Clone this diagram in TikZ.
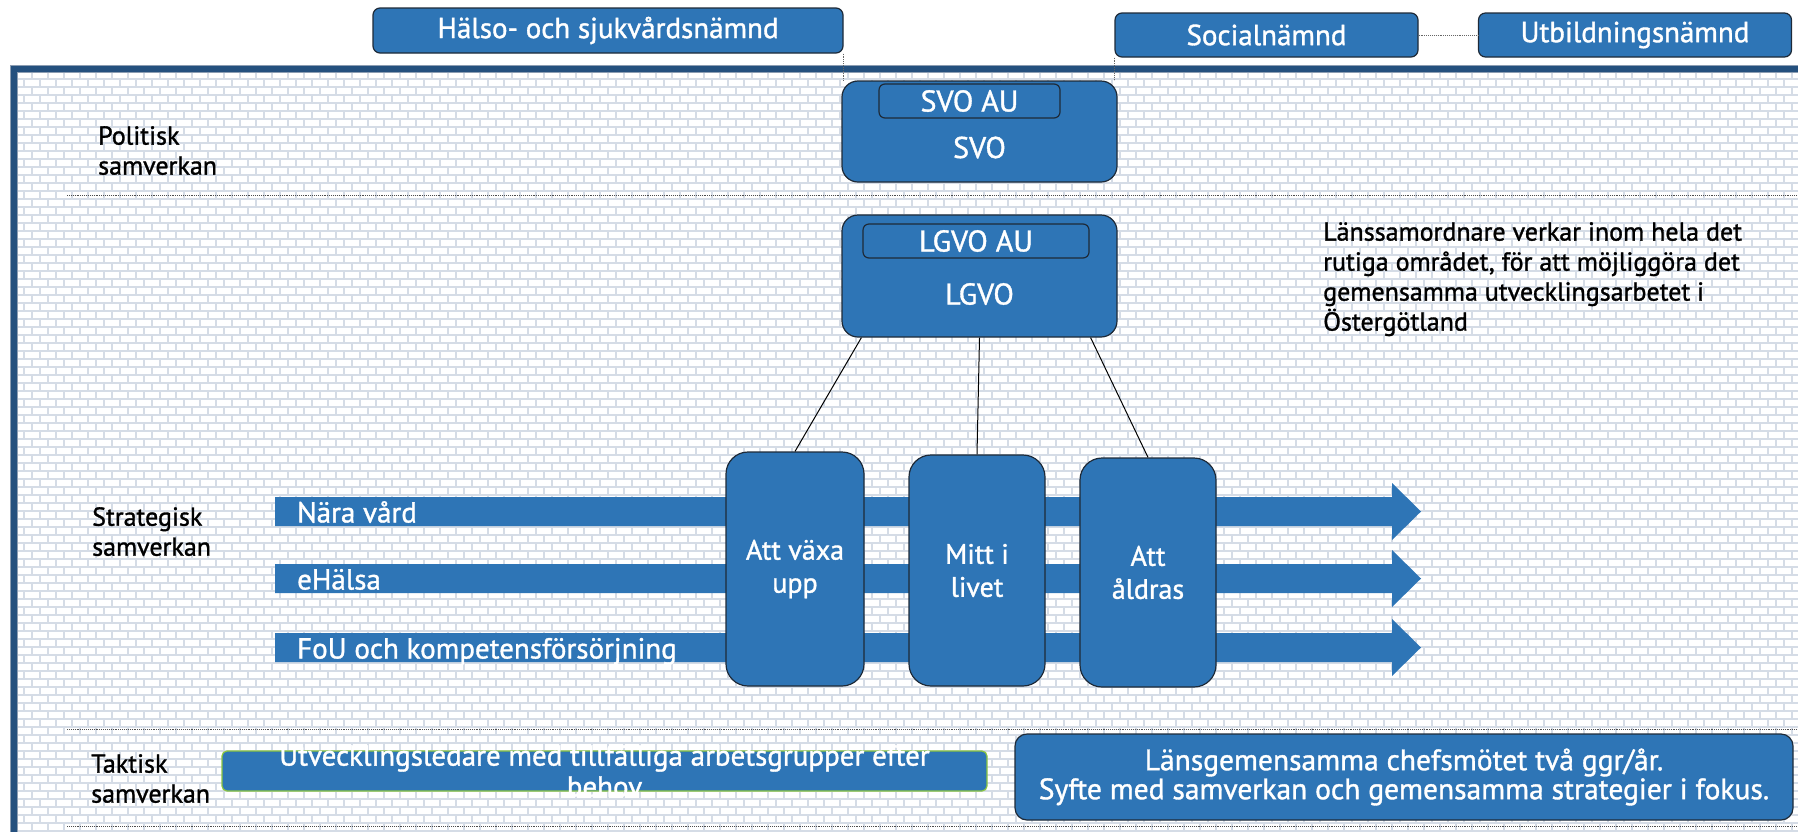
\documentclass[tikz,border=0pt]{standalone}
\usepackage{fontspec}
\setmainfont{PT Sans}[FakeBold=1.2]
\usetikzlibrary{patterns}

\definecolor{boxblue}{HTML}{2E75B6}
\definecolor{boxedge}{HTML}{1E2A38}
\definecolor{frame}{HTML}{24507E}
\definecolor{frameedge}{HTML}{8C9DB2}
\definecolor{brick}{HTML}{D5DCE6}
\definecolor{leafgreen}{HTML}{8CC63F}

% brick wall tile for the background
\pgfdeclarepatternformonly{brickwall}{\pgfqpoint{-1pt}{-1pt}}{\pgfqpoint{17pt}{17pt}}{\pgfqpoint{16pt}{16pt}}{%
  \pgfsetlinewidth{1.6pt}
  \pgfpathmoveto{\pgfqpoint{0pt}{0pt}}\pgfpathlineto{\pgfqpoint{16pt}{0pt}}
  \pgfpathmoveto{\pgfqpoint{0pt}{8pt}}\pgfpathlineto{\pgfqpoint{16pt}{8pt}}
  \pgfpathmoveto{\pgfqpoint{0pt}{0pt}}\pgfpathlineto{\pgfqpoint{0pt}{8pt}}
  \pgfpathmoveto{\pgfqpoint{8pt}{8pt}}\pgfpathlineto{\pgfqpoint{8pt}{16pt}}
  \pgfusepath{stroke}}

\begin{document}
\begin{tikzpicture}[x=1pt,y=-1pt,
  box/.style={draw=boxedge, line width=1.2pt, fill=boxblue, text=white, inner sep=0pt},
  topbox/.style={box, rounded corners=7pt, minimum height=45pt, font=\fontsize{29}{34}\selectfont},
  orgbox/.style={box, rounded corners=16pt, minimum width=275pt},
  aubox/.style={box, rounded corners=6pt, minimum height=34pt, font=\fontsize{30}{34}\selectfont},
  boxlabel/.style={text=white, inner sep=0pt, font=\fontsize{30}{34}\selectfont},
  phasebox/.style={box, rounded corners=22pt, align=center, font=\fontsize{28}{33}\selectfont},
  streamtext/.style={anchor=base west, text=white, inner sep=0pt, font=\fontsize{29}{33}\selectfont},
  levellabel/.style={anchor=north west, align=left, inner sep=0pt, font=\fontsize{26}{30}\selectfont},
  sepline/.style={densely dotted, line width=0.9pt, draw=black!70},
  linkline/.style={densely dotted, line width=0.9pt, draw=black!60},
  treeline/.style={line width=1pt, draw=black}]
\useasboundingbox (0,0) rectangle (1798,831);
\clip (0,0) rectangle (1798,831);

% background and frame
\fill[pattern=brickwall, pattern color=brick] (16,72) rectangle (1798,831);
\draw[line width=7.5pt, draw=frameedge] (14,900) -- (14,69) -- (1900,69);
\draw[line width=5.5pt, draw=frame] (14,900) -- (14,69) -- (1900,69);
\foreach \yy in {195,729,826}
  \draw[sepline] (67,\yy) -- (1798,\yy);

% levels
\node[levellabel] (pol) at (98,126) {Politisk\\samverkan};
\node[levellabel] (str) at (92,507) {Strategisk\\samverkan};
\node[levellabel] (tak) at (91,754) {Taktisk\\samverkan};
\node[levellabel] (info) at (1323,222) {Länssamordnare verkar inom hela det\\rutiga området, för att möjliggöra det\\gemensamma utvecklingsarbetet i\\Östergötland};

% boards
\node[topbox, minimum width=470pt] (hsn) at (608,30.5) {Hälso- och sjukvårdsnämnd};
\node[topbox, minimum width=303pt, minimum height=44pt] (soc) at (1266.5,35) {Socialnämnd};
\node[topbox, minimum width=313pt, minimum height=44pt] (utb) at (1635,35) {Utbildningsnämnd};
\draw[linkline] (soc.east) -- (utb.west);

% SVO
\node[orgbox, minimum height=101pt, label={[boxlabel,yshift=-16pt]center:SVO}] (svo) at (979.5,131.5) {};
\node[aubox, minimum width=181pt] (svoau) at (969.5,101) {SVO AU};
\draw[linkline] (hsn.south east) -- (hsn.south east |- svo.north);
\draw[linkline] (soc.south west) -- (soc.south west |- svo.north);

% LGVO
\node[orgbox, minimum height=122pt, label={[boxlabel,yshift=-18pt]center:LGVO}] (lgvo) at (979.5,276) {};
\node[aubox, minimum width=226pt] (lgvoau) at (976,241) {LGVO AU};

% strategic areas
\foreach \yy/\name/\txt in {511.5/nara/Nära vård, 578.5/ehalsa/eHälsa, 647.5/fou/FoU och kompetensförsörjning}{
  \fill[boxblue] (275,\yy-14.5) -- (1392,\yy-14.5) -- (1392,\yy-28.5) -- (1421,\yy)
    -- (1392,\yy+28.5) -- (1392,\yy+14.5) -- (275,\yy+14.5) -- cycle;
  \node[streamtext] (\name) at (297,\yy+11) {\txt};
}

% life phases
\node[phasebox, minimum width=138pt, minimum height=234pt] (grow) at (795,569) {Att växa\\upp};
\node[phasebox, minimum width=136pt, minimum height=231pt] (mid) at (977,570.5) {Mitt i\\livet};
\node[phasebox, minimum width=136pt, minimum height=229pt] (age) at (1148,572.5) {Att\\åldras};
\draw[treeline] ([xshift=20pt]lgvo.south west) -- (grow.north);
\draw[treeline] (lgvo.south) -- (mid.north);
\draw[treeline] ([xshift=-27pt]lgvo.south east) -- (age.north);

% tactical level
\node[box, draw=leafgreen, rounded corners=5pt, minimum width=765pt, minimum height=40pt,
  label={[text=white, inner sep=0pt, align=center, font=\fontsize{29}{31}\selectfont]center:{Utvecklingsledare med tillfälliga arbetsgrupper efter\\behov}}] (utv) at (604.5,771) {};
\node[box, rounded corners=12pt, minimum width=778pt, minimum height=86pt, align=center,
  font=\fontsize{29.5}{29}\selectfont] (chef) at (1404,777) {Länsgemensamma chefsmötet två ggr/år.\\Syfte med samverkan och gemensamma strategier i fokus.};
\end{tikzpicture}
\end{document}
